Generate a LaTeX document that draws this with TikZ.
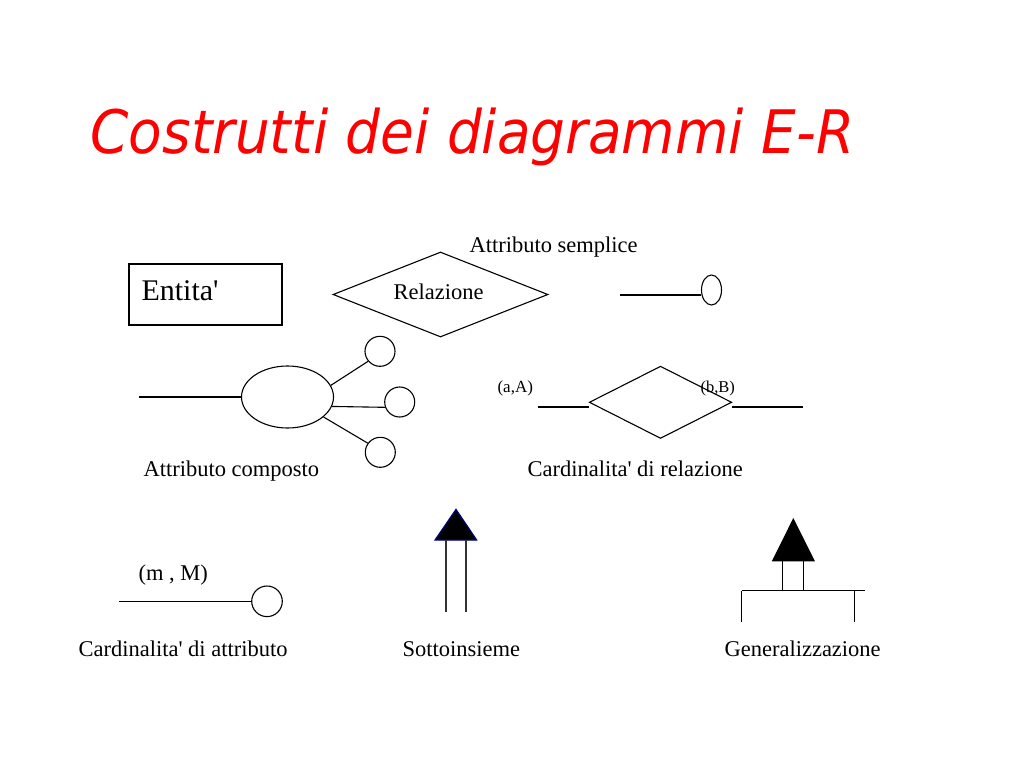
\documentclass[tikz,border=0pt]{standalone}
\usepackage{fontspec}
\setmainfont{Liberation Serif}[Ligatures=TeXOff]
\newfontfamily\titlefont{DejaVu Sans}
\usetikzlibrary{shapes.geometric}
\definecolor{titlered}{RGB}{255,0,0}
\definecolor{tribluec}{RGB}{0,0,140}
\begin{document}
\begin{tikzpicture}[x=1pt,y=-1pt,line width=1.1pt,
  lbl/.style={inner sep=0pt,anchor=base west,font=\fontsize{22.5}{26}\selectfont},
  small/.style={inner sep=0pt,anchor=base west,font=\fontsize{17}{20}\selectfont},
  attr/.style={draw,circle,inner sep=0pt,minimum size=30pt},
  rel/.style={draw,diamond,inner sep=0pt}]
\useasboundingbox (0,0) rectangle (1024,768);
\fill[white] (0,0) rectangle (1024,768);

% title
\node[inner sep=0pt,anchor=base west,text=titlered] (title) at (90,153)
  {\scalebox{0.915}[1]{\titlefont\itshape\fontsize{60}{70}\selectfont Costrutti dei diagrammi E-R}};

% entity
\node[draw,minimum width=153pt,minimum height=61pt,inner sep=0pt] (ent) at (205.5,294.5) {};
\node[inner sep=0pt,anchor=base west,font=\fontsize{30}{34}\selectfont] (entlbl) at (141,300) {Entita'};

% relation
\node[rel,minimum width=215pt,minimum height=85pt] (rel) at (440.5,294.5) {};
\node[lbl] (rellbl) at (393,299) {Relazione};

% simple attribute
\node[lbl] (salbl) at (469,252) {Attributo semplice};
\node[draw,ellipse,inner sep=0pt,minimum width=20pt,minimum height=30pt] (sa) at (711.5,290) {};
\coordinate (sa0) at (620,295);
\draw (sa0) -- (sa0 -| sa.west);

% composite attribute
\node[draw,ellipse,inner sep=0pt,minimum width=92pt,minimum height=62pt] (comp) at (287.5,397) {};
\coordinate (comp0) at (139,397);
\draw (comp0) -- (comp.west);
\node[attr] (c1) at (380,351.3) {};
\node[attr] (c2) at (399.7,402) {};
\node[attr] (c3) at (380.3,452.3) {};
\draw (comp.15) -- (c1.220);
\draw (comp.-12) -- (c2.200);
\draw (comp.-29) -- (c3.144);
\node[lbl] (complbl) at (143,476) {Attributo composto};

% cardinality of relation
\node[rel,minimum width=142.5pt,minimum height=72.3pt] (rel2) at (660.5,402.3) {};
\coordinate (rl0) at (538.3,407);
\coordinate (rr0) at (803.3,407);
\draw (rl0) -- (rl0 -| rel2.west);
\draw (rr0) -- (rr0 -| rel2.east);
\node[small] (aA) at (497,392) {(a,A)};
\node[small,font=\fontsize{16.5}{20}\selectfont] (bB) at (700,392) {(b,B)};
\node[lbl] (crlbl) at (527,476) {Cardinalita' di relazione};

% cardinality of attribute
\node[attr,minimum size=30.6pt] (ca) at (267,601.3) {};
\coordinate (ca0) at (119.3,601.3);
\draw (ca0) -- (ca.west);
\node[lbl] (mM) at (138,580) {(m , M)};
\node[lbl] (calbl) at (78,656) {Cardinalita' di attributo};

% subset
\coordinate (st) at (456,509.3);
\coordinate (sl) at (435,540);
\coordinate (sr) at (476.7,540);
\filldraw[fill=black,draw=tribluec] (st) -- (sl) -- (sr) -- cycle;
\coordinate (s1a) at (446,540);
\coordinate (s1b) at (446,611.7);
\coordinate (s2a) at (466,540);
\coordinate (s2b) at (466,611.7);
\draw[black!80] (s1a) -- (s1b);
\draw[black!80] (s2a) -- (s2b);
\node[lbl] (sublbl) at (402,656) {Sottoinsieme};

% generalization
\coordinate (gt) at (793.3,519.3);
\coordinate (gl) at (772.7,560.7);
\coordinate (gr) at (814,560.7);
\filldraw[fill=black,draw=black] (gt) -- (gl) -- (gr) -- cycle;
\coordinate (g1a) at (782.7,560.7);
\coordinate (g1b) at (782.7,590.7);
\coordinate (g2a) at (803.3,560.7);
\coordinate (g2b) at (803.3,590.7);
\draw (g1a) -- (g1b);
\draw (g2a) -- (g2b);
\coordinate (hl) at (741.7,590.7);
\coordinate (hr) at (865,590.7);
\draw (hl) -- (hr);
\coordinate (ll) at (741.7,621.7);
\coordinate (rr) at (854.3,590.7);
\coordinate (rrb) at (854.3,621.7);
\draw (hl) -- (ll);
\draw (rr) -- (rrb);
\node[lbl] (genlbl) at (724,656) {Generalizzazione};
\end{tikzpicture}
\end{document}
